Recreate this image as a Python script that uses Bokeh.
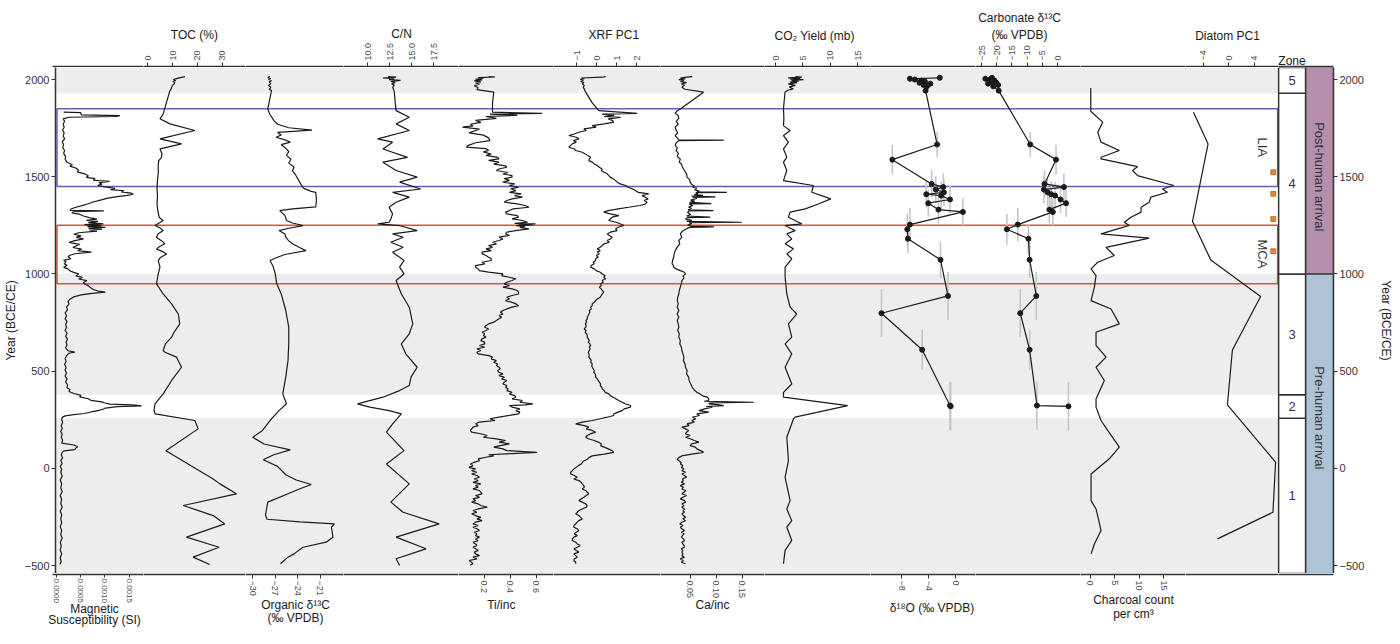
import math
from bokeh.plotting import figure
from bokeh.layouts import row, column
from bokeh.models import Range1d, LinearAxis, FixedTicker, Title
from bokeh.core.properties import value
from bokeh.embed import file_html
from bokeh.resources import INLINE

# ---------------------------------------------------------------------------
# Core records as (year BCE/CE, value) pairs, top of the core first
# ---------------------------------------------------------------------------
mag_susc = [
    (1832, 0.00009), (1830, 0.00044), (1818, 0.00046), (1814, 0.00125), (1810, 0.00118),
    (1806, 0.00020), (1798, 0.00008), (1785, 0.00011), (1770, 0.00008), (1755, 0.00010),
    (1740, 0.00007), (1725, 0.00010), (1710, 0.00008), (1695, 0.00011), (1680, 0.00006),
    (1665, 0.00009), (1650, 0.00007), (1635, 0.00011), (1620, 0.00009), (1605, 0.00013),
    (1590, 0.00012), (1575, 0.00016), (1562, 0.00027), (1555, 0.00022), (1545, 0.00034),
    (1535, 0.00040), (1525, 0.00037), (1515, 0.00052), (1505, 0.00060), (1497, 0.00056),
    (1490, 0.00074), (1482, 0.00070), (1476, 0.00104), (1470, 0.00082), (1462, 0.00088),
    (1455, 0.00079), (1448, 0.00094), (1440, 0.00115), (1434, 0.00106), (1428, 0.00134),
    (1422, 0.00128), (1416, 0.00148), (1410, 0.00153), (1404, 0.00140), (1398, 0.00120),
    (1390, 0.00100), (1380, 0.00085), (1370, 0.00070), (1360, 0.00058), (1350, 0.00045),
    (1342, 0.00033), (1334, 0.00024), (1327, 0.00022), (1324, 0.00092), (1320, 0.00030),
    (1314, 0.00026), (1306, 0.00043), (1298, 0.00050), (1290, 0.00062), (1282, 0.00078),
    (1276, 0.00056), (1270, 0.00080), (1264, 0.00060), (1258, 0.00091), (1254, 0.00052),
    (1249, 0.00087), (1245, 0.00058), (1240, 0.00095), (1236, 0.00060), (1231, 0.00088),
    (1226, 0.00062), (1220, 0.00078), (1212, 0.00040), (1204, 0.00030), (1196, 0.00045),
    (1188, 0.00035), (1180, 0.00050), (1170, 0.00030), (1162, 0.00020), (1152, 0.00042),
    (1144, 0.00034), (1136, 0.00028), (1128, 0.00046), (1120, 0.00038), (1112, 0.00066),
    (1104, 0.00032), (1096, 0.00022), (1088, 0.00018), (1078, 0.00024), (1070, 0.00009),
    (1062, 0.00014), (1052, 0.00010), (1044, 0.00016), (1034, 0.00009), (1026, 0.00018),
    (1016, 0.00022), (1008, 0.00030), (1000, 0.00040), (990, 0.00034), (982, 0.00048),
    (974, 0.00040), (966, 0.00057), (956, 0.00050), (948, 0.00052), (940, 0.00060),
    (930, 0.00064), (920, 0.00070), (912, 0.00080), (906, 0.00095), (900, 0.00068),
    (892, 0.00045), (882, 0.00030), (870, 0.00022), (858, 0.00018), (845, 0.00020),
    (830, 0.00015), (815, 0.00017), (800, 0.00012), (785, 0.00015), (770, 0.00012),
    (755, 0.00016), (740, 0.00013), (725, 0.00015), (710, 0.00012), (695, 0.00016),
    (680, 0.00013), (665, 0.00017), (650, 0.00014), (635, 0.00016), (620, 0.00013),
    (605, 0.00018), (598, 0.00032), (592, 0.00020), (580, 0.00015), (565, 0.00012),
    (550, 0.00014), (535, 0.00011), (520, 0.00014), (505, 0.00012), (490, 0.00015),
    (475, 0.00012), (460, 0.00016), (445, 0.00013), (430, 0.00017), (415, 0.00016),
    (405, 0.00022), (395, 0.00020), (385, 0.00030), (375, 0.00045), (368, 0.00042),
    (358, 0.00060), (350, 0.00065), (342, 0.00088), (336, 0.00094), (330, 0.00105),
    (326, 0.00150), (321, 0.00170), (317, 0.00120), (310, 0.00095), (304, 0.00090),
    (298, 0.00082), (290, 0.00066), (282, 0.00052), (276, 0.00030), (270, 0.00012),
    (262, 0.00006), (250, 0.00005), (236, 0.00007), (220, 0.00004), (205, 0.00006),
    (190, 0.00003), (175, 0.00006), (160, 0.00004), (145, 0.00007), (130, 0.00005),
    (120, 0.00030), (112, 0.00038), (104, 0.00034), (96, 0.00032), (90, 0.00010),
    (82, 0.00006), (70, 0.00004), (55, 0.00007), (40, 0.00003), (25, 0.00006),
    (10, 0.00002), (-5, 0.00005), (-20, 0.00003), (-40, 0.00006), (-60, 0.00002),
    (-80, 0.00005), (-100, 0.00003), (-120, 0.00006), (-140, 0.00002), (-160, 0.00005),
    (-180, 0.00003), (-200, 0.00006), (-220, 0.00002), (-240, 0.00005), (-260, 0.00003),
    (-280, 0.00005), (-300, 0.00002), (-320, 0.00005), (-340, 0.00003), (-360, 0.00006),
    (-380, 0.00002), (-400, 0.00004), (-420, 0.00002), (-440, 0.00005), (-460, 0.00002),
    (-480, 0.00004), (-495, 0.00001),
]

toc_pct = [
    (2015, 13.9), (2010, 12.0), (2005, 10.5), (2000, 9.2), (1995, 10.2), (1990, 9.0),
    (1985, 9.8), (1978, 9.6), (1970, 8.8), (1960, 8.5), (1952, 8.3), (1943, 7.8),
    (1823, 5.1), (1798, 3.8), (1772, 7.8), (1738, 17.9), (1695, 3.8), (1669, 12.5),
    (1643, 3.8), (1620, 4.6), (1600, 4.4), (1583, 3.3), (1560, 3.1), (1520, 3.1),
    (1480, 2.8), (1440, 2.6), (1400, 2.8), (1360, 2.6), (1320, 3.0), (1290, 3.5),
    (1275, 5.1), (1249, 1.8), (1235, 4.0), (1223, 5.1), (1205, 3.0), (1189, 2.4),
    (1170, 4.5), (1155, 5.8), (1140, 3.5), (1129, 2.4), (1115, 4.8), (1103, 6.5),
    (1085, 4.0), (1069, 3.1), (1035, 3.8), (1000, 3.1), (949, 2.4), (897, 5.1),
    (846, 8.5), (794, 11.2), (743, 11.8), (700, 9.5), (675, 8.5), (640, 6.0),
    (606, 5.1), (597, 5.8), (572, 10.5), (520, 12.5), (452, 8.5), (383, 5.1),
    (332, 1.8), (300, 1.4), (280, 1.8), (246, 17.9), (203, 19.2), (91, 6.2),
    (-55, 25.3), (-80, 28.0), (-131, 34.7), (-191, 13.2), (-243, 25.3), (-286, 30.0),
    (-354, 14.5), (-406, 27.7), (-457, 17.2), (-495, 23.9),
]

org_d13c = [
    (2015, -28.0), (2010, -28.3), (2005, -27.9), (2000, -28.2), (1995, -27.8), (1988, -28.1),
    (1980, -27.9), (1970, -28.2), (1960, -27.9), (1950, -28.1), (1943, -27.8), (1849, -28.3),
    (1820, -28.0), (1790, -27.5), (1770, -27.0), (1752, -25.5), (1740, -22.4), (1728, -27.0),
    (1715, -26.5), (1703, -27.2), (1690, -26.0), (1678, -25.3), (1665, -26.5), (1650, -26.0),
    (1630, -25.5), (1610, -25.8), (1590, -25.2), (1570, -25.5), (1550, -24.8), (1530, -25.0),
    (1510, -24.6), (1490, -24.3), (1470, -24.0), (1455, -23.8), (1440, -23.5), (1425, -22.5),
    (1420, -21.9), (1380, -21.8), (1345, -21.9), (1335, -25.0), (1326, -26.7), (1300, -26.0),
    (1275, -25.8), (1262, -25.0), (1249, -23.6), (1235, -25.5), (1223, -26.8), (1205, -26.0),
    (1189, -25.9), (1170, -25.5), (1155, -25.0), (1135, -24.0), (1120, -23.2), (1100, -26.0),
    (1086, -27.0), (1069, -28.0), (1040, -27.6), (1000, -27.3), (949, -27.1), (897, -26.5),
    (812, -25.9), (726, -25.5), (640, -25.5), (554, -25.6), (469, -25.9), (383, -26.3),
    (332, -25.8), (297, -26.8), (246, -28.0), (195, -29.0), (160, -30.3), (125, -28.8),
    (95, -25.3), (70, -27.5), (44, -28.9), (10, -27.0), (-33, -25.9), (-60, -24.5),
    (-83, -22.5), (-105, -24.0), (-131, -25.6), (-174, -28.3), (-217, -28.5), (-240, -28.6),
    (-262, -28.4), (-275, -24.0), (-286, -19.4), (-303, -19.8), (-354, -19.6), (-380, -20.5),
    (-406, -23.6), (-440, -24.8), (-457, -25.6), (-491, -26.6),
]

c_to_n = [
    (2015, 12.1), (2012, 13.0), (2008, 11.5), (2004, 12.8), (2000, 12.2), (1996, 13.5),
    (1990, 12.4), (1985, 12.9), (1978, 12.5), (1970, 12.8), (1960, 12.6), (1950, 12.7),
    (1935, 12.8), (1880, 12.9), (1840, 13.0), (1806, 14.5), (1772, 13.0), (1738, 14.5),
    (1695, 10.9), (1678, 12.6), (1643, 11.5), (1600, 14.3), (1575, 11.5), (1532, 13.0),
    (1498, 15.4), (1472, 13.4), (1437, 15.8), (1420, 12.6), (1395, 14.5), (1369, 13.0),
    (1343, 12.2), (1309, 12.6), (1283, 12.4), (1266, 12.2), (1258, 10.9), (1249, 13.4),
    (1223, 15.4), (1206, 12.6), (1189, 13.8), (1163, 12.4), (1137, 13.8), (1112, 12.6),
    (1069, 13.9), (1035, 13.4), (1000, 13.9), (966, 13.0), (897, 13.6), (829, 14.5),
    (743, 14.9), (692, 14.5), (640, 13.6), (589, 14.1), (520, 15.4), (469, 14.7),
    (426, 14.5), (400, 13.4), (366, 11.5), (332, 8.6), (315, 10.0), (297, 12.2),
    (280, 13.6), (229, 12.6), (186, 11.9), (91, 13.9), (22, 11.9), (-80, 14.5),
    (-174, 12.4), (-226, 13.8), (-286, 17.9), (-354, 13.0), (-414, 16.4), (-465, 13.0),
    (-500, 13.4),
]

ti_inc = [
    (2015, 0.22), (2013, 0.27), (2010, 0.14), (2006, 0.18), (2002, 0.12), (1998, 0.17),
    (1993, 0.11), (1988, 0.16), (1982, 0.12), (1976, 0.15), (1968, 0.11), (1958, 0.14),
    (1948, 0.13), (1935, 0.26), (1880, 0.25), (1832, 0.25), (1826, 0.63), (1822, 0.23),
    (1816, 0.44), (1810, 0.20), (1800, 0.28), (1790, 0.12), (1780, 0.16), (1770, 0.08),
    (1762, 0.10), (1755, 0.02), (1745, 0.15), (1738, 0.12), (1726, 0.07), (1714, 0.18),
    (1700, 0.22), (1686, 0.23), (1675, 0.12), (1660, 0.06), (1652, 0.05), (1645, 0.20),
    (1636, 0.22), (1628, 0.18), (1617, 0.24), (1610, 0.20), (1600, 0.29), (1592, 0.30),
    (1584, 0.22), (1575, 0.30), (1565, 0.26), (1556, 0.35), (1549, 0.36), (1540, 0.30),
    (1532, 0.28), (1522, 0.37), (1514, 0.33), (1506, 0.40), (1498, 0.40), (1490, 0.34),
    (1481, 0.38), (1472, 0.33), (1463, 0.42), (1455, 0.38), (1446, 0.45), (1438, 0.39),
    (1429, 0.43), (1420, 0.38), (1412, 0.47), (1403, 0.42), (1395, 0.48), (1386, 0.40),
    (1378, 0.36), (1369, 0.34), (1360, 0.44), (1352, 0.50), (1343, 0.53), (1335, 0.41),
    (1326, 0.38), (1318, 0.35), (1309, 0.36), (1300, 0.44), (1292, 0.45), (1283, 0.40),
    (1275, 0.48), (1266, 0.52), (1260, 0.42), (1258, 0.58), (1255, 0.45), (1252, 0.56),
    (1249, 0.43), (1245, 0.50), (1240, 0.46), (1232, 0.53), (1224, 0.44), (1215, 0.36),
    (1206, 0.35), (1198, 0.38), (1189, 0.30), (1180, 0.33), (1172, 0.30), (1163, 0.25),
    (1155, 0.28), (1146, 0.22), (1137, 0.25), (1129, 0.20), (1120, 0.24), (1112, 0.17),
    (1103, 0.17), (1095, 0.20), (1086, 0.22), (1078, 0.24), (1069, 0.24), (1060, 0.17),
    (1052, 0.19), (1043, 0.12), (1035, 0.12), (1026, 0.14), (1017, 0.15), (1009, 0.22),
    (1000, 0.33), (991, 0.32), (983, 0.38), (975, 0.43), (966, 0.40), (957, 0.36),
    (949, 0.34), (940, 0.38), (932, 0.33), (923, 0.40), (915, 0.44), (906, 0.45),
    (897, 0.45), (889, 0.40), (880, 0.36), (871, 0.38), (863, 0.35), (854, 0.40),
    (846, 0.43), (837, 0.45), (829, 0.40), (820, 0.36), (812, 0.33), (803, 0.31),
    (794, 0.33), (786, 0.30), (777, 0.32), (769, 0.30), (760, 0.28), (752, 0.26),
    (743, 0.22), (735, 0.20), (726, 0.19), (717, 0.22), (709, 0.20), (700, 0.17),
    (692, 0.19), (683, 0.18), (675, 0.20), (666, 0.17), (657, 0.16), (649, 0.19),
    (640, 0.19), (632, 0.15), (623, 0.19), (615, 0.13), (606, 0.16), (597, 0.13),
    (589, 0.14), (580, 0.22), (572, 0.25), (563, 0.24), (554, 0.28), (546, 0.26),
    (537, 0.29), (529, 0.28), (520, 0.30), (512, 0.31), (503, 0.29), (494, 0.30),
    (486, 0.33), (477, 0.30), (469, 0.34), (460, 0.32), (452, 0.36), (443, 0.34),
    (434, 0.33), (426, 0.36), (417, 0.35), (409, 0.37), (400, 0.36), (391, 0.40),
    (383, 0.38), (374, 0.42), (366, 0.43), (357, 0.40), (349, 0.48), (340, 0.46),
    (332, 0.56), (326, 0.50), (323, 0.38), (315, 0.40), (306, 0.46), (297, 0.43),
    (289, 0.46), (280, 0.45), (272, 0.38), (263, 0.30), (255, 0.23), (246, 0.27),
    (238, 0.15), (229, 0.12), (220, 0.14), (212, 0.10), (203, 0.09), (195, 0.08),
    (186, 0.09), (178, 0.16), (169, 0.21), (160, 0.18), (152, 0.28), (143, 0.35),
    (135, 0.30), (126, 0.38), (117, 0.31), (109, 0.26), (100, 0.33), (91, 0.36),
    (82, 0.59), (76, 0.40), (70, 0.22), (64, 0.26), (57, 0.20), (49, 0.14),
    (40, 0.15), (31, 0.11), (22, 0.08), (14, 0.10), (5, 0.07), (-3, 0.12),
    (-12, 0.09), (-20, 0.13), (-29, 0.09), (-37, 0.13), (-46, 0.15), (-55, 0.11),
    (-63, 0.14), (-72, 0.10), (-80, 0.16), (-89, 0.12), (-97, 0.14), (-106, 0.10),
    (-114, 0.15), (-123, 0.16), (-131, 0.17), (-140, 0.12), (-149, 0.15), (-157, 0.10),
    (-166, 0.12), (-174, 0.09), (-183, 0.14), (-191, 0.16), (-200, 0.21), (-209, 0.14),
    (-217, 0.10), (-226, 0.13), (-234, 0.09), (-243, 0.12), (-252, 0.16), (-260, 0.13),
    (-269, 0.17), (-277, 0.12), (-286, 0.10), (-294, 0.14), (-303, 0.10), (-311, 0.13),
    (-320, 0.15), (-329, 0.11), (-337, 0.13), (-346, 0.12), (-354, 0.15), (-363, 0.12),
    (-372, 0.14), (-380, 0.10), (-389, 0.12), (-397, 0.13), (-406, 0.10), (-414, 0.12),
    (-423, 0.14), (-431, 0.11), (-440, 0.12), (-449, 0.15), (-457, 0.10), (-466, 0.13),
    (-474, 0.07), (-483, 0.09), (-491, 0.10), (-498, 0.08),
]

xrf_pc1 = [
    (2015, 0.37), (2012, 0.20), (2008, -0.85), (2004, -0.70), (2000, -0.90), (1995, -0.75),
    (1990, -0.88), (1984, -0.72), (1978, -0.80), (1970, -0.70), (1960, -0.75), (1948, -0.68),
    (1935, -0.63), (1880, -0.30), (1840, 0.03), (1826, 1.95), (1822, 0.20), (1816, 0.80),
    (1810, 0.30), (1805, 1.12), (1798, 0.50), (1790, 0.70), (1781, 0.78), (1772, 0.30),
    (1763, -0.30), (1755, -0.10), (1746, -0.72), (1738, -0.60), (1729, -0.97), (1720, -1.20),
    (1712, -1.47), (1703, -1.10), (1695, -0.97), (1686, -1.25), (1678, -1.10), (1669, -1.30),
    (1660, -1.40), (1652, -1.47), (1643, -1.20), (1635, -1.13), (1626, -0.80), (1617, -0.65),
    (1608, -0.50), (1600, -0.38), (1592, -0.45), (1583, -0.47), (1575, -0.30), (1566, -0.20),
    (1558, -0.05), (1549, 0.05), (1540, 0.20), (1532, 0.15), (1523, 0.30), (1515, 0.45),
    (1506, 0.53), (1498, 0.60), (1489, 0.75), (1480, 0.87), (1472, 0.95), (1463, 1.10),
    (1455, 1.37), (1446, 1.50), (1438, 1.70), (1429, 1.87), (1420, 2.00), (1412, 2.53),
    (1403, 2.20), (1395, 2.35), (1386, 2.50), (1378, 2.30), (1369, 2.45), (1360, 2.37),
    (1352, 2.10), (1343, 1.53), (1335, 1.00), (1326, 0.50), (1318, 0.28), (1309, 0.60),
    (1300, 1.03), (1292, 0.70), (1283, 0.60), (1275, 0.53), (1266, 0.90), (1258, 1.10),
    (1249, 1.28), (1240, 1.00), (1232, 0.87), (1223, 0.95), (1215, 0.60), (1206, 0.45),
    (1198, 0.55), (1189, 0.70), (1180, 0.60), (1172, 0.45), (1163, 0.55), (1155, 0.30),
    (1146, 0.20), (1137, 0.10), (1129, -0.05), (1120, 0.10), (1112, -0.05), (1103, 0.05),
    (1095, -0.10), (1086, 0.00), (1078, -0.13), (1069, -0.13), (1060, -0.25), (1052, -0.20),
    (1043, -0.35), (1035, -0.38), (1026, -0.20), (1017, -0.10), (1009, 0.10), (1000, 0.20),
    (991, 0.35), (983, 0.28), (975, 0.37), (966, 0.20), (957, 0.25), (949, 0.12),
    (940, 0.15), (932, 0.05), (923, 0.15), (915, 0.20), (906, 0.28), (897, 0.20),
    (889, 0.15), (880, 0.10), (871, -0.05), (863, -0.13), (854, -0.20), (846, -0.30),
    (837, -0.30), (829, -0.38), (820, -0.35), (812, -0.45), (803, -0.42), (794, -0.47),
    (786, -0.50), (777, -0.55), (769, -0.55), (760, -0.62), (752, -0.58), (743, -0.65),
    (735, -0.60), (726, -0.63), (717, -0.70), (709, -0.60), (700, -0.66), (692, -0.58),
    (683, -0.55), (675, -0.55), (666, -0.50), (657, -0.45), (649, -0.50), (640, -0.42),
    (632, -0.38), (623, -0.45), (615, -0.40), (606, -0.45), (597, -0.50), (589, -0.47),
    (580, -0.45), (572, -0.47), (563, -0.40), (554, -0.35), (546, -0.38), (537, -0.30),
    (529, -0.32), (520, -0.30), (512, -0.25), (503, -0.20), (494, -0.22), (486, -0.15),
    (477, -0.13), (469, -0.13), (460, -0.05), (452, 0.00), (443, 0.05), (434, 0.12),
    (426, 0.10), (417, 0.18), (409, 0.20), (400, 0.30), (391, 0.35), (383, 0.53),
    (374, 0.60), (366, 0.75), (357, 0.90), (349, 1.03), (340, 1.20), (332, 1.35),
    (323, 1.62), (315, 1.62), (306, 1.30), (297, 1.20), (289, 1.00), (280, 0.78),
    (272, 0.78), (263, 0.45), (255, 0.10), (246, -0.30), (238, -0.80), (229, -1.13),
    (220, -0.70), (212, -0.47), (203, -0.60), (195, -0.30), (186, -0.13), (177, -0.40),
    (169, -0.55), (160, -0.63), (152, -0.50), (143, -0.20), (135, 0.00), (126, 0.15),
    (117, 0.12), (109, 0.30), (100, 0.50), (91, 0.70), (82, 0.78), (73, 0.30),
    (64, -0.30), (55, -0.47), (47, -0.55), (38, -0.72), (29, -0.80), (22, -0.85),
    (14, -1.00), (5, -1.10), (-3, -1.22), (-12, -1.30), (-20, -1.38), (-29, -1.38),
    (-37, -1.20), (-46, -1.05), (-55, -1.22), (-63, -0.97), (-72, -0.85), (-80, -0.80),
    (-89, -0.72), (-97, -0.70), (-106, -0.80), (-114, -0.63), (-123, -0.55), (-131, -0.47),
    (-140, -0.60), (-149, -0.72), (-157, -0.85), (-166, -0.97), (-174, -0.80), (-183, -0.63),
    (-191, -0.55), (-200, -0.60), (-209, -0.80), (-217, -0.97), (-226, -1.05), (-234, -1.13),
    (-243, -0.97), (-252, -0.88), (-260, -0.80), (-269, -0.97), (-277, -1.05), (-286, -1.13),
    (-294, -1.22), (-303, -1.22), (-311, -1.05), (-320, -0.97), (-329, -1.10), (-337, -1.20),
    (-346, -1.05), (-354, -1.22), (-363, -1.30), (-371, -1.30), (-380, -1.13), (-389, -1.05),
    (-397, -0.90), (-406, -1.05), (-414, -1.22), (-423, -1.10), (-431, -0.97), (-440, -1.22),
    (-449, -1.13), (-457, -1.05), (-466, -1.20), (-474, -1.22), (-483, -1.13), (-491, -1.13),
]

ca_inc = [
    (2015, 0.051), (2012, 0.040), (2008, 0.028), (2004, 0.038), (2000, 0.025), (1996, 0.035),
    (1990, 0.028), (1984, 0.040), (1978, 0.030), (1970, 0.036), (1960, 0.031), (1950, 0.037),
    (1935, 0.073), (1849, 0.028), (1840, 0.022), (1826, 0.018), (1815, 0.024), (1800, 0.025),
    (1785, 0.020), (1770, 0.024), (1755, 0.018), (1740, 0.020), (1725, 0.023), (1712, 0.018),
    (1700, 0.022), (1690, 0.025), (1688, 0.112), (1686, 0.025), (1675, 0.020), (1660, 0.018),
    (1650, 0.022), (1635, 0.020), (1620, 0.024), (1605, 0.022), (1590, 0.028), (1575, 0.026),
    (1566, 0.030), (1550, 0.032), (1532, 0.036), (1515, 0.040), (1498, 0.041), (1485, 0.046),
    (1472, 0.047), (1460, 0.050), (1452, 0.055), (1446, 0.052), (1440, 0.060), (1432, 0.056),
    (1426, 0.065), (1422, 0.060), (1420, 0.118), (1418, 0.058), (1412, 0.062), (1408, 0.055),
    (1404, 0.072), (1400, 0.050), (1396, 0.096), (1394, 0.052), (1388, 0.060), (1380, 0.048),
    (1374, 0.056), (1368, 0.046), (1362, 0.088), (1360, 0.045), (1352, 0.052), (1344, 0.044),
    (1338, 0.050), (1330, 0.043), (1326, 0.092), (1324, 0.045), (1316, 0.042), (1306, 0.048),
    (1298, 0.040), (1292, 0.086), (1290, 0.042), (1282, 0.038), (1276, 0.050), (1270, 0.040),
    (1266, 0.147), (1264, 0.045), (1258, 0.050), (1252, 0.042), (1246, 0.050), (1242, 0.093),
    (1240, 0.046), (1232, 0.040), (1220, 0.032), (1206, 0.028), (1189, 0.031), (1172, 0.025),
    (1155, 0.027), (1138, 0.022), (1120, 0.018), (1103, 0.016), (1086, 0.015), (1069, 0.013),
    (1052, 0.012), (1043, 0.015), (1035, 0.015), (1026, 0.020), (1017, 0.028), (1009, 0.036),
    (1000, 0.038), (990, 0.033), (980, 0.035), (966, 0.031), (950, 0.030), (932, 0.028),
    (915, 0.026), (897, 0.025), (880, 0.023), (863, 0.022), (846, 0.024), (829, 0.022),
    (812, 0.025), (794, 0.022), (777, 0.025), (760, 0.022), (743, 0.024), (726, 0.025),
    (709, 0.023), (692, 0.026), (675, 0.025), (657, 0.028), (640, 0.027), (623, 0.030),
    (606, 0.031), (589, 0.033), (572, 0.035), (554, 0.034), (537, 0.037), (520, 0.038),
    (503, 0.041), (486, 0.040), (469, 0.044), (452, 0.045), (434, 0.048), (417, 0.051),
    (400, 0.056), (391, 0.060), (383, 0.066), (374, 0.070), (366, 0.080), (357, 0.083),
    (349, 0.083), (345, 0.074), (340, 0.170), (336, 0.085), (332, 0.083), (328, 0.100),
    (323, 0.112), (318, 0.078), (315, 0.090), (306, 0.075), (297, 0.064), (289, 0.083),
    (280, 0.060), (272, 0.065), (263, 0.051), (255, 0.058), (246, 0.050), (238, 0.055),
    (229, 0.041), (220, 0.045), (212, 0.031), (203, 0.038), (195, 0.044), (186, 0.040),
    (177, 0.038), (169, 0.047), (160, 0.038), (152, 0.047), (143, 0.055), (135, 0.064),
    (126, 0.050), (117, 0.047), (109, 0.057), (100, 0.060), (91, 0.067), (82, 0.073),
    (73, 0.050), (64, 0.031), (55, 0.025), (47, 0.022), (38, 0.026), (29, 0.030),
    (22, 0.028), (14, 0.033), (5, 0.030), (-3, 0.035), (-12, 0.031), (-20, 0.038),
    (-29, 0.031), (-37, 0.036), (-46, 0.040), (-55, 0.032), (-63, 0.034), (-72, 0.030),
    (-80, 0.036), (-89, 0.028), (-97, 0.034), (-106, 0.031), (-114, 0.038), (-123, 0.035),
    (-131, 0.031), (-140, 0.040), (-149, 0.033), (-157, 0.028), (-166, 0.036), (-174, 0.038),
    (-183, 0.031), (-191, 0.035), (-200, 0.031), (-209, 0.036), (-217, 0.033), (-226, 0.036),
    (-234, 0.031), (-243, 0.034), (-252, 0.038), (-260, 0.033), (-269, 0.038), (-277, 0.031),
    (-286, 0.027), (-294, 0.033), (-303, 0.028), (-311, 0.031), (-320, 0.036), (-329, 0.030),
    (-337, 0.035), (-346, 0.032), (-354, 0.030), (-363, 0.034), (-372, 0.036), (-380, 0.031),
    (-389, 0.033), (-397, 0.035), (-406, 0.036), (-414, 0.030), (-423, 0.033), (-431, 0.031),
    (-440, 0.033), (-449, 0.031), (-457, 0.036), (-466, 0.028), (-474, 0.034), (-483, 0.030),
    (-491, 0.038),
]

co2_yield = [
    (2015, 3.4), (2012, 4.6), (2009, 2.1), (2006, 4.3), (2003, 2.4), (2000, 4.9),
    (1996, 2.7), (1992, 4.0), (1988, 2.4), (1984, 3.7), (1978, 2.1), (1970, 3.4),
    (1962, 2.3), (1952, 3.0), (1945, 2.0), (1935, 1.5), (1849, 1.22), (1800, 1.3),
    (1763, 1.22), (1738, 2.44), (1712, 1.22), (1678, 2.13), (1643, 1.22), (1600, 1.83),
    (1575, 1.22), (1532, 1.83), (1480, 1.22), (1455, 6.7), (1420, 6.4), (1386, 9.9),
    (1360, 7.6), (1335, 5.2), (1318, 2.44), (1292, 2.13), (1275, 3.35), (1258, 4.57),
    (1249, 1.5), (1240, 2.13), (1223, 3.35), (1206, 1.83), (1180, 2.74), (1155, 1.52),
    (1129, 3.05), (1103, 1.83), (1078, 2.74), (1035, 1.52), (983, 1.52), (897, 1.83),
    (829, 2.44), (794, 3.66), (743, 2.13), (675, 2.74), (640, 1.52), (589, 2.74),
    (520, 1.52), (434, 2.74), (391, 1.22), (366, 1.22), (323, 13.0), (263, 3.35),
    (254, 3.05), (160, 1.83), (40, 2.13), (-46, 1.52), (-166, 2.44), (-209, 1.83),
    (-269, 2.74), (-303, 1.83), (-371, 2.74), (-422, 1.52), (-491, 1.22),
]

# Carbonate samples share one age model: year, age uncertainty (yr), d18O, d13C
iso_year = [2009, 2004, 2000, 1995, 1990, 1984, 1979, 1972, 1965, 1943,
            1666, 1588, 1463, 1447, 1434, 1420, 1410, 1403, 1383, 1364,
            1331, 1319, 1254, 1230, 1181, 1073, 887, 798, 610, 323, 319]
iso_age_err = [15, 15, 15, 15, 15, 15, 15, 15, 15, 15,
               64, 77, 70, 70, 70, 70, 70, 70, 70, 70,
               70, 70, 86, 80, 77, 94, 123, 123, 103, 124, 124]
d18o_carb = [-2.5, -6.9, -6.2, -5.2, -4.7, -5.5, -3.9, -4.9, -4.4, -4.6,
             -2.9, -9.5, -3.7, -2.0, -3.1, -1.9, -4.5, -2.3, -1.0, -4.2,
             -2.7, 0.9, -6.9, -7.3, -7.2, -2.4, -1.3, -11.1, -5.1, -1.0, -0.9]
d13c_carb = [-21.8, -24.0, -22.6, -21.0, -22.3, -20.4, -23.1, -19.8, -21.4, -19.6,
             -9.2, -0.7, -4.5, 1.9, -4.7, -3.5, -2.3, -1.0, 0.8, 2.6,
             -2.9, -1.75, -13.3, -16.9, -9.8, -9.4, -7.2, -12.5, -9.4, -7.0, 3.4]

charcoal = [
    (1957, 0.0), (1837, 0.0), (1781, 2.45), (1729, 1.43), (1678, 2.1), (1635, 5.85),
    (1600, 2.1), (1592, 2.1), (1552, 9.6), (1532, 8.58), (1506, 9.6), (1455, 17.0),
    (1437, 14.7), (1420, 15.7), (1395, 12.3), (1369, 11.98), (1343, 10.3), (1318, 10.3),
    (1292, 8.24), (1266, 6.87), (1249, 7.9), (1232, 5.52), (1206, 2.1), (1184, 11.98),
    (1137, 3.13), (1095, 4.83), (1060, 1.43), (1026, 0.06), (992, 1.08), (932, 0.74),
    (863, 0.06), (820, 4.15), (743, 5.85), (700, 1.08), (632, 1.08), (572, 3.13),
    (520, 1.08), (452, 2.78), (357, 1.08), (315, 1.08), (246, 2.1), (195, 3.47),
    (109, 5.85), (49, 3.8), (-29, 0.06), (-166, 0.06), (-209, 1.08), (-286, 1.8),
    (-320, 2.1), (-389, 0.74), (-440, 0.06),
]

diatom_pc1 = [
    (1832, -5.63), (1669, -3.32), (1271, -5.79), (1072, -2.89), (884, 5.0),
    (609, 0.53), (326, -0.26), (32, 7.37), (-226, 6.95), (-363, -1.84),
]

# radiocarbon-dated horizons shown beside the diatom record
dated_years = [1523, 1412, 1283, 1117]
dated_marker_pc1 = [7.0, 7.0, 7.0, 7.0]

# stratigraphy
zone_names = ["1", "2", "3", "4", "5"]
zone_bounds = [-541, 258, 378, 1000, 1930, 2062]
shaded_zones = ["1", "3", "5"]
phase_names = ["Pre-human arrival", "Post-human arrival"]
phase_bounds = [-541, 1000, 2062]
phase_label_year = [260, 1500]
period_names = ["LIA", "MCA"]
period_bounds = [(1450, 1850), (950, 1250)]
period_label_year = [1652, 1103]

year_ticks = [-500, 0, 500, 1000, 1500, 2000]
year_tick_labels = ["\u2212500", "0", "500", "1000", "1500", "2000"]

mag_ticks, mag_tick_labels = [0.0, 0.0005, 0.001, 0.0015], ["0.0000", "0.0005", "0.0010", "0.0015"]
toc_ticks, toc_tick_labels = [0, 10, 20, 30], ["0", "10", "20", "30"]
org_ticks, org_tick_labels = [-30, -27, -24, -21], ["\u221230", "\u221227", "\u221224", "\u221221"]
cn_ticks, cn_tick_labels = [10.0, 12.5, 15.0, 17.5], ["10.0", "12.5", "15.0", "17.5"]
ti_ticks, ti_tick_labels = [0.2, 0.4, 0.6], ["0.2", "0.4", "0.6"]
xrf_ticks, xrf_tick_labels = [-1, 0, 1, 2], ["\u22121", "0", "1", "2"]
ca_ticks, ca_tick_labels = [0.05, 0.10, 0.15], ["0.05", "0.10", "0.15"]
co2_ticks, co2_tick_labels = [0, 5, 10, 15], ["0", "5", "10", "15"]
d18o_ticks, d18o_tick_labels = [-8, -4, 0], ["\u22128", "\u22124", "0"]
d13c_ticks, d13c_tick_labels = [-25, -20, -15, -10, -5, 0], ["\u221225", "\u221220", "\u221215", "\u221210", "\u22125", "0"]
char_ticks, char_tick_labels = [0, 5, 10, 15], ["0", "5", "10", "15"]
diatom_ticks, diatom_tick_labels = [-4, 0, 4], ["\u22124", "0", "4"]

# ---------------------------------------------------------------------------
# Styling and page geometry (px)
# ---------------------------------------------------------------------------
FONT = "Liberation Sans"
INK = "#1a1a1a"
TICK_INK = "#4d4d4d"
FRAME_INK = "#333333"
BAND = "#ededed"
PERIOD_COLORS = ["#6a5db5", "#e4542c"]
ERR_COLOR = "#c6c6c6"
PHASE_COLORS = ["#aec4d6", "#b48fae"]

PAGE_W = 1400
TOP_H = 67          # strip holding the upper axes
PLOT_H = 506        # the stacked record panels
BOTTOM_H = 71       # strip holding the lower axes
LEFT = 52           # left edge of the record panels
MAIN_R = 1278       # right edge of the record panels
ZONE_R = 1305       # right edge of the zone column
BAR_R = 1333        # right edge of the settlement bar
RIGHT = PAGE_W - BAR_R

year_range = Range1d(zone_bounds[0], zone_bounds[-1])

# Arial / Liberation Sans advance widths (1/1000 em) for centring titles
GLYPH_W = {
    " ": 278, "(": 333, ")": 333, "%": 889, "/": 278, ".": 278, "1": 556,
    "B": 667, "C": 722, "D": 722, "I": 278, "M": 833, "N": 722, "O": 778, "P": 667,
    "R": 722, "S": 667, "T": 611, "V": 667, "X": 667, "Y": 667, "Z": 611,
    "a": 556, "b": 556, "c": 500, "d": 556, "e": 556, "g": 556, "h": 556, "i": 222,
    "l": 222, "m": 833, "n": 556, "o": 556, "p": 556, "r": 333, "s": 500, "t": 278,
    "u": 556, "y": 500, "\u03b4": 556, "\u00b9": 333, "\u00b3": 333, "\u2078": 333,
    "\u2082": 333, "\u2030": 1000,
}


def text_px(s, size=12):
    return sum(GLYPH_W.get(ch, 556) for ch in s) * size / 1000.0


def split(pairs):
    return [p[0] for p in pairs], [p[1] for p in pairs]


def style_axis(ax):
    ax.axis_line_color = FRAME_INK
    ax.axis_line_width = 1.5
    ax.major_tick_line_color = FRAME_INK
    ax.major_tick_in = 0
    ax.major_tick_out = 4
    ax.minor_tick_line_color = None
    ax.major_label_text_font = FONT
    ax.major_label_text_color = TICK_INK
    ax.major_label_standoff = 2
    ax.axis_label_text_font = FONT
    ax.axis_label_text_font_style = "normal"
    ax.axis_label_text_color = INK
    ax.axis_label_text_font_size = "12px"


def blank_axis():
    ax = LinearAxis(ticker=FixedTicker(ticks=[]))
    style_axis(ax)
    ax.major_tick_line_color = None
    ax.major_label_text_font_size = "0px"
    ax.major_tick_out = 0
    ax.major_label_standoff = 0
    return ax


def make_title(text, centre_px, frame_left_px, standoff):
    return Title(text=text, align="left", offset=centre_px - text_px(text) / 2 - frame_left_px,
                 text_font=FONT, text_font_size="12px", text_font_style="normal",
                 text_color=INK, standoff=standoff)


# panel edges (px), tick calibration (value, px, px per unit), axis side,
# title lines from the axis outwards, title centre (px) and gap beside the axis
panels = [
    dict(name="mag", edges=(52, 143), cal=(0.0, 55.8, 48533.0), side="below",
         ticks=mag_ticks, labels=mag_tick_labels, tick_size="8px", tick_out=3, label_gap=1,
         title=["Magnetic", "Susceptibility (SI)"], title_x=94, gap=-11),
    dict(name="toc", edges=(143, 245), cal=(0.0, 147.3, 2.48), side="above",
         ticks=toc_ticks, labels=toc_tick_labels, tick_size="9px",
         title=["TOC (%)"], title_x=194, gap=12),
    dict(name="org", edges=(245, 343), cal=(-30.0, 252.0, 7.51), side="below",
         ticks=org_ticks, labels=org_tick_labels, tick_size="9px",
         title=["Organic \u03b4\u00b9\u00b3C", "(\u2030 VPDB)"], title_x=295, gap=-6),
    dict(name="cn", edges=(343, 458), cal=(10.0, 367.0, 8.8), side="above",
         ticks=cn_ticks, labels=cn_tick_labels, tick_size="9px",
         title=["C/N"], title_x=401, gap=-2),
    dict(name="ti", edges=(458, 553), cal=(0.2, 483.5, 130.5), side="below",
         ticks=ti_ticks, labels=ti_tick_labels, tick_size="9px",
         title=["Ti/inc"], title_x=501, gap=-2),
    dict(name="xrf", edges=(553, 660), cal=(0.0, 596.0, 20.0), side="above",
         ticks=xrf_ticks, labels=xrf_tick_labels, tick_size="9px",
         title=["XRF PC1"], title_x=613, gap=12),
    dict(name="ca", edges=(660, 764), cal=(0.05, 689.7, 518.0), side="below",
         ticks=ca_ticks, labels=ca_tick_labels, tick_size="9px",
         title=["Ca/inc"], title_x=712, gap=-12),
    dict(name="co2", edges=(764, 870), cal=(0.0, 775.0, 5.47), side="above",
         ticks=co2_ticks, labels=co2_tick_labels, tick_size="9px",
         title=["CO\u2082 Yield (mb)"], title_x=814, gap=10),
    dict(name="d18o", edges=(870, 975), cal=(0.0, 955.4, 6.8), side="below",
         ticks=d18o_ticks, labels=d18o_tick_labels, tick_size="9px",
         title=["\u03b4\u00b9\u2078O (\u2030 VPDB)"], title_x=931, gap=10),
    dict(name="d13c", edges=(975, 1080), cal=(0.0, 1057.0, 3.04), side="above",
         ticks=d13c_ticks, labels=d13c_tick_labels, tick_size="9px",
         title=["(\u2030 VPDB)", "Carbonate \u03b4\u00b9\u00b3C"], title_x=1019, gap=2),
    dict(name="char", edges=(1080, 1185), cal=(0.0, 1089.7, 4.89), side="below",
         ticks=char_ticks, labels=char_tick_labels, tick_size="9px",
         title=["Charcoal count", "per cm\u00b3"], title_x=1133, gap=-5),
    dict(name="diatom", edges=(1185, 1278), cal=(0.0, 1228.3, 6.33), side="above",
         ticks=diatom_ticks, labels=diatom_tick_labels, tick_size="9px",
         title=["Diatom PC1"], title_x=1227, gap=10),
]

line_series = {
    "mag": mag_susc, "toc": toc_pct, "org": org_d13c, "cn": c_to_n, "ti": ti_inc,
    "xrf": xrf_pc1, "ca": ca_inc, "co2": co2_yield, "char": charcoal, "diatom": diatom_pc1,
}
point_series = {"d18o": d18o_carb, "d13c": d13c_carb}


def px_range(cal, left_px, right_px):
    v0, px0, k = cal
    return Range1d(v0 + (left_px - px0) / k, v0 + (right_px - px0) / k)


# ---------------------------------------------------------------------------
# Record panels: one frame shared by every series, each with its own x scale
# ---------------------------------------------------------------------------
main = figure(width=PAGE_W, height=PLOT_H, x_range=Range1d(LEFT, BAR_R), y_range=year_range,
              x_axis_location=None, y_axis_location=None,
              toolbar_location=None, output_backend="svg",
              min_border_left=LEFT, min_border_right=RIGHT,
              min_border_top=0, min_border_bottom=0,
              outline_line_color=None, background_fill_color="white",
              border_fill_color="white")
main.grid.grid_line_color = None
main.extra_x_ranges = {spec["name"]: px_range(spec["cal"], LEFT, BAR_R) for spec in panels}

# shaded zones behind the records
shade_lo = [b for n, b in zip(zone_names, zone_bounds[:-1]) if n in shaded_zones]
shade_hi = [b for n, b in zip(zone_names, zone_bounds[1:]) if n in shaded_zones]
main.quad(left=[LEFT] * len(shade_lo), right=[MAIN_R] * len(shade_lo),
          bottom=shade_lo, top=shade_hi, fill_color=BAND, line_color=None, level="underlay")

# climate-anomaly boxes
main.quad(left=[LEFT + 1.5] * 2, right=[MAIN_R - 1] * 2,
          bottom=[b[0] for b in period_bounds], top=[b[1] for b in period_bounds],
          fill_color=None, line_color=PERIOD_COLORS, line_width=1.5, level="underlay")

for spec in panels:
    name = spec["name"]
    if name in line_series:
        yrs, vals = split(line_series[name])
        main.line(x=vals, y=yrs, x_range_name=name, line_color=INK, line_width=1.2)
    else:
        vals = point_series[name]
        lo = [y - e for y, e in zip(iso_year, iso_age_err)]
        hi = [y + e for y, e in zip(iso_year, iso_age_err)]
        main.segment(x0=vals, y0=lo, x1=vals, y1=hi, x_range_name=name,
                     line_color=ERR_COLOR, line_width=1.6)
        main.line(x=vals, y=iso_year, x_range_name=name, line_color=INK, line_width=1.2)
        main.scatter(x=vals, y=iso_year, x_range_name=name, size=5,
                     fill_color=INK, line_color=INK)

main.scatter(x=dated_marker_pc1, y=dated_years, x_range_name="diatom", marker="square",
             size=5, fill_color="#e08a2a", line_color="#9a5418", line_width=0.6)
main.text(x=[1262] * 2, y=period_label_year, text=period_names,
          angle=-math.pi / 2, text_align="center", text_baseline="middle",
          text_font=value(FONT), text_font_size="13px", text_color="#333333")

# zone column and settlement bar
main.quad(left=[ZONE_R] * 2, right=[BAR_R] * 2, bottom=phase_bounds[:-1], top=phase_bounds[1:],
          fill_color=PHASE_COLORS, line_color=FRAME_INK, line_width=1.2)
main.quad(left=[MAIN_R] * len(zone_names), right=[ZONE_R] * len(zone_names),
          bottom=zone_bounds[:-1], top=zone_bounds[1:],
          fill_color="white", line_color=FRAME_INK, line_width=1.5)
zone_mid = [(a + b) / 2 for a, b in zip(zone_bounds[:-1], zone_bounds[1:])]
main.text(x=[(MAIN_R + ZONE_R) / 2] * len(zone_names), y=zone_mid, text=zone_names,
          text_align="center", text_baseline="middle", text_font=value(FONT),
          text_font_size="13px", text_color="#333333")
main.text(x=[(ZONE_R + BAR_R) / 2] * 2, y=phase_label_year, text=phase_names,
          angle=-math.pi / 2, text_align="center", text_baseline="middle",
          text_font=value(FONT), text_font_size="13px", text_color="#333333")

yax = LinearAxis(ticker=FixedTicker(ticks=year_ticks),
                 major_label_overrides=dict(zip(year_ticks, year_tick_labels)),
                 axis_label="Year (BCE/CE)", axis_label_standoff=4)
style_axis(yax)
yax.major_label_text_font_size = "11px"
yax.major_label_text_color = "#333333"
main.add_layout(yax, "left")

ryax = LinearAxis(ticker=FixedTicker(ticks=year_ticks),
                  major_label_overrides=dict(zip(year_ticks, year_tick_labels)),
                  axis_label="Year (BCE/CE)", axis_label_standoff=12)
style_axis(ryax)
ryax.major_label_text_font_size = "11px"
ryax.major_label_text_color = "#333333"
main.add_layout(ryax, "right")

# ---------------------------------------------------------------------------
# Axis strips above and below the panels, one figure per series
# ---------------------------------------------------------------------------
def strip(spec_or_none, where, left_px, right_px, x_range, first=False, last=False):
    height = TOP_H if where == "above" else BOTTOM_H
    title = None
    lines = []
    if spec_or_none is not None and spec_or_none["side"] == where:
        lines = spec_or_none["title"]
        gap = spec_or_none["gap"]
        title = make_title(lines[-1], spec_or_none["title_x"], left_px,
                           gap if len(lines) == 1 else 0)
    s = figure(width=(right_px - left_px) + (LEFT if first else 0) + (RIGHT if last else 0),
               height=height, x_range=x_range, y_range=Range1d(0, 1),
               x_axis_location=None, y_axis_location=None,
               toolbar_location=None, output_backend="svg",
               title=title, title_location=where,
               min_border_left=LEFT if first else 0, min_border_right=RIGHT if last else 0,
               min_border_top=height - 1 if where == "above" else 0,
               min_border_bottom=height - 1 if where == "below" else 0,
               outline_line_color=None, background_fill_color="white",
               border_fill_color="white")
    s.grid.grid_line_color = None
    if lines:
        ax = LinearAxis(ticker=FixedTicker(ticks=spec_or_none["ticks"]),
                        major_label_overrides=dict(zip(spec_or_none["ticks"],
                                                       spec_or_none["labels"])))
        style_axis(ax)
        ax.major_label_text_font_size = spec_or_none["tick_size"]
        ax.major_tick_out = spec_or_none.get("tick_out", 4)
        ax.major_label_standoff = spec_or_none.get("label_gap", 2)
        ax.major_label_orientation = "vertical"
        s.add_layout(ax, where)
        for line_text in lines[:-1]:
            s.add_layout(make_title(line_text, spec_or_none["title_x"], left_px,
                                    spec_or_none["gap"]), where)
    else:
        s.add_layout(blank_axis(), where)
    return s


top_row, bottom_row = [], []
for i, spec in enumerate(panels):
    lpx, rpx = spec["edges"]
    rng = px_range(spec["cal"], lpx, rpx)
    top_row.append(strip(spec, "above", lpx, rpx, rng, first=(i == 0)))
    bottom_row.append(strip(spec, "below", lpx, rpx, rng, first=(i == 0)))

zone_top = strip(None, "above", MAIN_R, BAR_R, Range1d(0, 1), last=True)
zone_top.title = make_title("Zone", (MAIN_R + ZONE_R) / 2, MAIN_R, -3)
zone_top.title_location = "above"
top_row.append(zone_top)
bottom_row.append(strip(None, "below", MAIN_R, BAR_R, Range1d(0, 1), last=True))

layout = column(row(*top_row, spacing=0), main, row(*bottom_row, spacing=0), spacing=0)
open("out.html", "w").write(file_html(layout, INLINE))
